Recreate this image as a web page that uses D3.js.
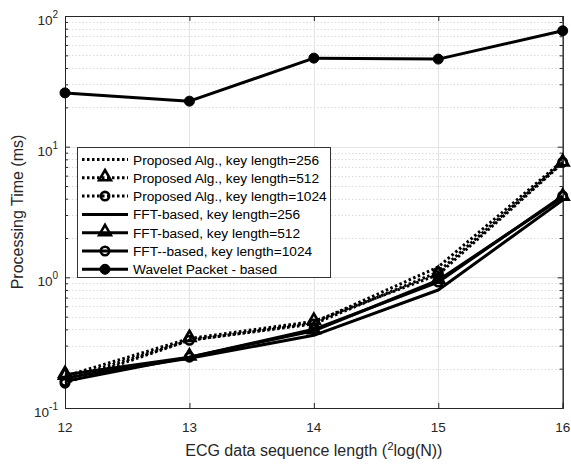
<!DOCTYPE html>
<html>
<head>
<meta charset="utf-8">
<script src="https://cdn.jsdelivr.net/npm/d3@7"></script>
<style>
  html, body { margin: 0; padding: 0; background: #fff; }
  svg { display: block; font-family: "Liberation Sans", Arial, sans-serif; }
</style>
</head>
<body>
<svg id="chart" width="571" height="465"></svg>
<script>
// Sequence length exponents (x axis)
const lengths = [12, 13, 14, 15, 16];

// Processing time in ms for each method
const proposed256  = [0.165, 0.33, 0.45, 1.20, 7.8];
const proposed512  = [0.175, 0.34, 0.46, 1.05, 7.5];
const proposed1024 = [0.155, 0.33, 0.44, 1.10, 7.6];
const fft256       = [0.170, 0.24, 0.36, 0.80, 3.9];
const fft512       = [0.180, 0.245, 0.39, 0.95, 4.1];
const fft1024      = [0.160, 0.245, 0.40, 0.92, 4.2];
const wavelet      = [25.8, 22.3, 47.6, 46.8, 77.0];

const xTickValues = [12, 13, 14, 15, 16];
const yDecades = [0.1, 1, 10, 100];
const yDecadeExponents = ["-1", "0", "1", "2"];

const legendLabels = [
  "Proposed Alg., key length=256",
  "Proposed Alg., key length=512",
  "Proposed Alg., key length=1024",
  "FFT-based, key length=256",
  "FFT-based, key length=512",
  "FFT--based, key length=1024",
  "Wavelet Packet - based"
];

const series = [
  { values: proposed256,  dotted: true,  marker: null },
  { values: proposed512,  dotted: true,  marker: "triangle" },
  { values: proposed1024, dotted: true,  marker: "circle" },
  { values: fft256,       dotted: false, marker: null },
  { values: fft512,       dotted: false, marker: "triangle" },
  { values: fft1024,      dotted: false, marker: "circle" },
  { values: wavelet,      dotted: false, marker: "dot" }
];

const svg = d3.select("#chart");
const plotLeft = 65, plotRight = 562.7, plotTop = 16, plotBottom = 408;

const x = d3.scaleLinear().domain([12, 16]).range([plotLeft, plotRight]);
const y = d3.scaleLog().domain([0.1, 100]).range([plotBottom, plotTop]);

const axisColor = "#262626";
const gridMajor = "#e3e3e3";
const gridMinor = "#dcdcdc";

// Minor log values between decades
const minorValues = [];
for (let d = 0.1; d < 100; d *= 10) {
  for (let m = 2; m <= 9; m++) minorValues.push(+(d * m).toPrecision(3));
}

const grid = svg.append("g");
// Horizontal minor grid (dotted)
grid.selectAll("line.minor").data(minorValues).join("line")
  .attr("class", "minor")
  .attr("x1", plotLeft).attr("x2", plotRight)
  .attr("y1", d => Math.round(y(d)) + 0.5).attr("y2", d => Math.round(y(d)) + 0.5)
  .attr("stroke", gridMinor).attr("stroke-width", 1).attr("stroke-dasharray", "1.5,2");
// Horizontal major grid
grid.selectAll("line.hmajor").data(yDecades.slice(1, -1)).join("line")
  .attr("class", "hmajor")
  .attr("x1", plotLeft).attr("x2", plotRight)
  .attr("y1", d => Math.round(y(d)) + 0.5).attr("y2", d => Math.round(y(d)) + 0.5)
  .attr("stroke", gridMajor).attr("stroke-width", 1);
// Vertical major grid
grid.selectAll("line.vmajor").data(xTickValues.slice(1, -1)).join("line")
  .attr("class", "vmajor")
  .attr("y1", plotTop).attr("y2", plotBottom)
  .attr("x1", d => Math.round(x(d)) + 0.5).attr("x2", d => Math.round(x(d)) + 0.5)
  .attr("stroke", gridMajor).attr("stroke-width", 1);

// Axes with inward ticks
const xAxisBottom = d3.axisBottom(x).tickValues(xTickValues).tickSize(-5).tickFormat("");
const xAxisTop = d3.axisTop(x).tickValues(xTickValues).tickSize(-5).tickFormat("");
const yAxisLeft = d3.axisLeft(y).tickValues(yDecades).tickSize(-5).tickFormat("");
const yAxisRight = d3.axisRight(y).tickValues(yDecades).tickSize(-5).tickFormat("");
const yMinorLeft = d3.axisLeft(y).tickValues(minorValues).tickSize(-3).tickFormat("");
const yMinorRight = d3.axisRight(y).tickValues(minorValues).tickSize(-3).tickFormat("");

function styleAxis(g) {
  g.selectAll("path").attr("stroke", axisColor).attr("stroke-width", 1);
  g.selectAll("line").attr("stroke", axisColor).attr("stroke-width", 1);
}
svg.append("g").attr("transform", `translate(0,${plotBottom})`).call(xAxisBottom).call(styleAxis);
svg.append("g").attr("transform", `translate(0,${plotTop})`).call(xAxisTop).call(styleAxis);
svg.append("g").attr("transform", `translate(${plotLeft},0)`).call(yAxisLeft).call(styleAxis);
svg.append("g").attr("transform", `translate(${plotRight},0)`).call(yAxisRight).call(styleAxis);
svg.append("g").attr("transform", `translate(${plotLeft},0)`).call(yMinorLeft).call(styleAxis);
svg.append("g").attr("transform", `translate(${plotRight},0)`).call(yMinorRight).call(styleAxis);

// Tick labels
svg.append("g").selectAll("text").data(xTickValues).join("text")
  .attr("x", d => x(d)).attr("y", 431.5)
  .attr("text-anchor", "middle").attr("font-size", 13.5).attr("fill", axisColor)
  .text(d => d);

const yLab = svg.append("g").selectAll("text").data(yDecades).join("text")
  .attr("x", 58).attr("y", d => y(d) + 9)
  .attr("text-anchor", "end").attr("font-size", 13.5).attr("fill", axisColor);
yLab.append("tspan").text("10");
yLab.append("tspan").attr("dy", -7).attr("font-size", 10).text((d, i) => yDecadeExponents[i]);

// Axis titles
const xTitle = svg.append("text")
  .attr("x", (plotLeft + plotRight) / 2).attr("y", 456)
  .attr("text-anchor", "middle").attr("font-size", 16).attr("fill", axisColor);
xTitle.append("tspan").text("ECG data sequence length (");
xTitle.append("tspan").attr("dy", -6).attr("font-size", 11.5).text("2");
xTitle.append("tspan").attr("dy", 6).text("log(N))");

svg.append("text")
  .attr("transform", `translate(23,${(plotTop + plotBottom) / 2}) rotate(-90)`)
  .attr("text-anchor", "middle").attr("font-size", 16).attr("fill", axisColor)
  .text("Processing Time (ms)");

// Data lines
const line = d3.line().x((d, i) => x(lengths[i])).y(d => y(d));
const triangle = d3.symbol().type(d3.symbolTriangle).size(60);

function drawMarker(g, kind, cx, cy) {
  if (kind === "triangle") {
    g.append("path").attr("d", triangle())
      .attr("transform", `translate(${cx},${cy - 1})`)
      .attr("fill", "none").attr("stroke", "#000").attr("stroke-width", 2.6)
      .attr("stroke-linejoin", "miter");
  } else if (kind === "circle") {
    g.append("circle").attr("cx", cx).attr("cy", cy).attr("r", 4.2)
      .attr("fill", "none").attr("stroke", "#000").attr("stroke-width", 2.6);
  } else if (kind === "dot") {
    g.append("circle").attr("cx", cx).attr("cy", cy).attr("r", 5)
      .attr("fill", "#000").attr("stroke", "#000").attr("stroke-width", 1);
  }
}

const plot = svg.append("g");
series.forEach(s => {
  const g = plot.append("g");
  g.append("path").datum(s.values).attr("d", line)
    .attr("fill", "none").attr("stroke", "#000").attr("stroke-width", 3)
    .attr("stroke-linejoin", "round")
    .attr("stroke-dasharray", s.dotted ? "2.5,2.5" : null);
  if (s.marker) {
    s.values.forEach((v, i) => drawMarker(g, s.marker, x(lengths[i]), y(v)));
  }
});

// Legend
const lg = svg.append("g");
lg.append("rect").attr("x", 77.5).attr("y", 147.5).attr("width", 253).attr("height", 130)
  .attr("fill", "#fff").attr("stroke", "#333").attr("stroke-width", 1);
legendLabels.forEach((label, i) => {
  const cy = 159.5 + i * 18.3;
  const s = series[i];
  const row = lg.append("g");
  row.append("line").attr("x1", 82).attr("x2", 128).attr("y1", cy).attr("y2", cy)
    .attr("stroke", "#000").attr("stroke-width", 3)
    .attr("stroke-dasharray", s.dotted ? "2.5,2.5" : null);
  if (s.marker) drawMarker(row, s.marker, 105, cy);
  row.append("text").attr("x", 133).attr("y", cy + 5)
    .attr("font-size", 13.7).attr("fill", "#000").text(label);
});
</script>
</body>
</html>
